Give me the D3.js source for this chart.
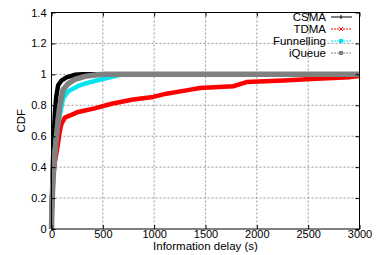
<!DOCTYPE html>
<html>
<head>
<meta charset="utf-8">
<script src="https://cdn.jsdelivr.net/npm/d3@7"></script>
<style>
  body { margin: 0; background: #fff; }
  text { font-family: "Liberation Sans", Arial, sans-serif; font-size: 11px; fill: #000; }
</style>
</head>
<body>
<script>
// delay (s) / CDF pairs
var csmaDelay = [0, 5, 15, 25, 32, 45, 65, 97, 146, 227, 300, 3000];
var csmaCdf   = [0, 0.2, 0.45, 0.63, 0.74, 0.85, 0.93, 0.96, 0.98, 0.997, 1, 1];

var tdmaDelay = [0, 5, 20, 32, 50, 65, 80, 97, 130, 200, 260, 420, 585, 795, 990, 1120, 1300, 1445, 1770, 1900, 2257, 2580, 2907, 3000];
var tdmaCdf   = [0, 0.2, 0.35, 0.43, 0.5, 0.56, 0.63, 0.68, 0.72, 0.74, 0.757, 0.78, 0.81, 0.837, 0.854, 0.875, 0.895, 0.912, 0.923, 0.95, 0.961, 0.972, 0.982, 0.99];

var funnDelay = [0, 5, 20, 45, 81, 113, 162, 260, 350, 470, 600, 680, 3000];
var funnCdf   = [0, 0.2, 0.4, 0.6, 0.735, 0.845, 0.89, 0.925, 0.945, 0.965, 0.985, 1, 1];

var iqDelay = [0, 5, 16, 30, 49, 65, 81, 113, 162, 227, 325, 450, 520, 3000];
var iqCdf   = [0, 0.15, 0.35, 0.47, 0.6, 0.71, 0.8, 0.9, 0.94, 0.967, 0.987, 0.998, 1, 1];

var seriesNames = ["CSMA", "TDMA", "Funnelling", "iQueue"];
var seriesColors = ["#000000", "#ff0000", "#00e5ee", "#808080"];

var xTicks = [0, 500, 1000, 1500, 2000, 2500, 3000];
var yTicks = [0, 0.2, 0.4, 0.6, 0.8, 1, 1.2, 1.4];

var width = 378, height = 255;
var margin = {top: 12.5, right: 18.5, bottom: 26, left: 51.5};
var w = width - margin.left - margin.right,
    h = height - margin.top - margin.bottom;

var svg = d3.select("body").append("svg")
    .attr("width", width)
    .attr("height", height);

var g = svg.append("g")
    .attr("transform", "translate(" + margin.left + "," + margin.top + ")");

var x = d3.scaleLinear().domain([0, 3000]).range([0, w]);
var y = d3.scaleLinear().domain([0, 1.4]).range([h, 0]);

// grid
g.append("g").selectAll("line")
    .data(xTicks.slice(1, -1))
    .enter().append("line")
    .attr("x1", function(d) { return x(d); })
    .attr("x2", function(d) { return x(d); })
    .attr("y1", 0).attr("y2", h)
    .attr("stroke", "#999").attr("stroke-dasharray", "2,2");

g.append("g").selectAll("line")
    .data(yTicks.slice(1, -1))
    .enter().append("line")
    .attr("y1", function(d) { return y(d); })
    .attr("y2", function(d) { return y(d); })
    .attr("x1", 0).attr("x2", w)
    .attr("stroke", "#999").attr("stroke-dasharray", "2,2");

// curves
var allDelay = [csmaDelay, tdmaDelay, funnDelay, iqDelay];
var allCdf = [csmaCdf, tdmaCdf, funnCdf, iqCdf];

var line = d3.line()
    .x(function(d) { return x(d[0]); })
    .y(function(d) { return y(d[1]); });

allDelay.forEach(function(dl, i) {
    var pts = dl.map(function(v, j) { return [v, allCdf[i][j]]; });
    g.append("path")
        .datum(pts)
        .attr("fill", "none")
        .attr("stroke", seriesColors[i])
        .attr("stroke-width", i == 3 ? 5.5 : 4.5)
        .attr("stroke-linejoin", "round")
        .attr("d", line);
});

// axes (gnuplot style, ticks inside and mirrored)
g.append("g")
    .attr("transform", "translate(0," + h + ")")
    .call(d3.axisBottom(x).tickValues(xTicks).tickSizeInner(-4).tickSizeOuter(0).tickPadding(1.5).tickFormat(d3.format("d")))
    .call(function(a) { a.select(".domain").remove(); a.selectAll("text").style("font-size", "11px").style("font-family", "Liberation Sans, Arial, sans-serif"); });

g.append("g")
    .call(d3.axisTop(x).tickValues(xTicks).tickSizeInner(-4).tickSizeOuter(0).tickFormat(""))
    .call(function(a) { a.select(".domain").remove(); });

g.append("g")
    .call(d3.axisLeft(y).tickValues(yTicks).tickSizeInner(-4).tickSizeOuter(0).tickPadding(5).tickFormat(d3.format("")))
    .call(function(a) { a.select(".domain").remove(); a.selectAll("text").style("font-size", "11px").style("font-family", "Liberation Sans, Arial, sans-serif"); });

g.append("g")
    .attr("transform", "translate(" + w + ",0)")
    .call(d3.axisRight(y).tickValues(yTicks).tickSizeInner(-4).tickSizeOuter(0).tickFormat(""))
    .call(function(a) { a.select(".domain").remove(); });

g.append("rect")
    .attr("width", w).attr("height", h)
    .attr("fill", "none").attr("stroke", "#000").attr("stroke-width", 1);

// axis titles
svg.append("text")
    .attr("x", margin.left + w / 2)
    .attr("y", 250)
    .attr("text-anchor", "middle")
    .style("font-size", "11.5px")
    .text("Information delay (s)");

svg.append("text")
    .attr("transform", "translate(25," + (margin.top + h / 2) + ") rotate(-90)")
    .attr("text-anchor", "middle")
    .style("font-size", "11.5px")
    .text("CDF");

// legend
var legend = svg.append("g");
seriesNames.forEach(function(name, i) {
    var ly = 17 + i * 12;
    legend.append("text")
        .attr("x", 326)
        .attr("y", ly)
        .attr("dy", "0.35em")
        .attr("text-anchor", "end")
        .style("font-size", "11.5px")
        .text(name);
    legend.append("line")
        .attr("x1", 331).attr("x2", 352)
        .attr("y1", ly).attr("y2", ly)
        .attr("stroke", seriesColors[i])
        .attr("stroke-width", 1)
        .attr("stroke-dasharray", i == 0 ? null : "2,1");
    if (i >= 2) {
        legend.append("rect")
            .attr("x", 339).attr("y", ly - 2).attr("width", 4).attr("height", 4)
            .attr("fill", seriesColors[i]);
    } else if (i == 1) {
        legend.append("path")
            .attr("d", "M339,"+(ly-2)+"L343,"+(ly+2)+"M339,"+(ly+2)+"L343,"+(ly-2))
            .attr("stroke", seriesColors[i]);
    } else {
        legend.append("path")
            .attr("d", "M341,"+(ly-2)+"L341,"+(ly+2))
            .attr("stroke", seriesColors[i]);
    }
});
</script>
</body>
</html>
